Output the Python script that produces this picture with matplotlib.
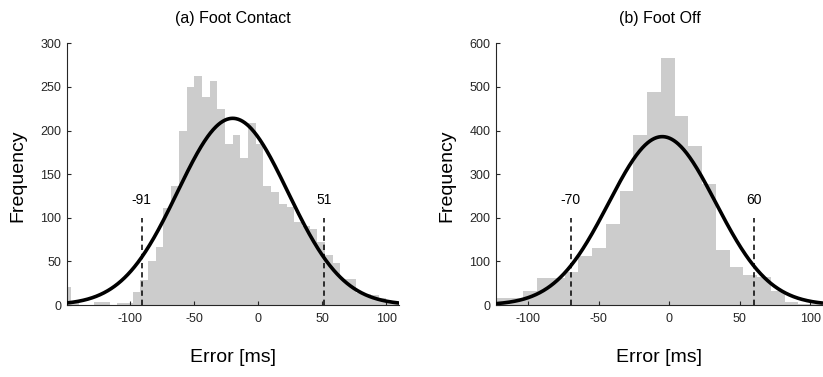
import numpy as np
import matplotlib
matplotlib.use("Agg")
import matplotlib.pyplot as plt

plt.rcParams['font.family'] = ['Liberation Sans', 'DejaVu Sans']
plt.rcParams['axes.unicode_minus'] = False

# ---------------- data ----------------
# (a) Foot Contact histogram
fc_bin_start = -152.0
fc_bin_width = 6.0
fc_counts = [21, 3, 0, 0, 3, 3, 0, 2, 2, 15, 29, 51, 67, 111, 136, 199, 250, 263,
             238, 257, 225, 185, 195, 168, 209, 185, 136, 130, 116, 112, 95, 91,
             87, 72, 57, 48, 30, 30, 14, 13, 12, 8, 5, 3]
fc_mean, fc_sigma, fc_peak = -20.0, 43.0, 214.0
fc_limits = [-91, 51]
fc_xlim = (-149.5, 110)

# (b) Foot Off histogram
fo_bin_start = -122.9
fo_bin_width = 9.75
fo_counts = [15, 15, 33, 63, 63, 76, 112, 131, 185, 261, 390, 489, 566, 434,
             365, 277, 126, 88, 69, 65, 31, 6, 3, 2]
fo_mean, fo_sigma, fo_peak = -5.0, 38.0, 386.0
fo_limits = [-70, 60]
fo_xlim = (-122.9, 109)

titles = ["(a) Foot Contact", "(b) Foot Off"]
x_ticks = [-100, -50, 0, 50, 100]
fc_yticks = [0, 50, 100, 150, 200, 250, 300]
fo_yticks = [0, 100, 200, 300, 400, 500, 600]

# ---------------- figure ----------------
W, H = 823, 377
fig = plt.figure(figsize=(W / 100, H / 100), dpi=100)

dark = '#262626'
bar_c = '#cccccc'


def px_ax(x0, x1, y0, y1):
    return [x0 / W, 1 - y1 / H, (x1 - x0) / W, (y1 - y0) / H]


panels = [
    dict(pos=px_ax(66.7, 399.3, 43.3, 305), start=fc_bin_start, width=fc_bin_width,
         counts=fc_counts, mu=fc_mean, sd=fc_sigma, pk=fc_peak, lim=fc_limits,
         xlim=fc_xlim, yticks=fc_yticks, dash_top=100, ylab_x=18),
    dict(pos=px_ax(496, 823, 43.3, 305), start=fo_bin_start, width=fo_bin_width,
         counts=fo_counts, mu=fo_mean, sd=fo_sigma, pk=fo_peak, lim=fo_limits,
         xlim=fo_xlim, yticks=fo_yticks, dash_top=200, ylab_x=447),
]

for i, p in enumerate(panels):
    ax = fig.add_axes(p['pos'])
    counts = np.array(p['counts'], dtype=float)
    edges = p['start'] + p['width'] * np.arange(len(counts))
    ax.bar(edges, counts, width=p['width'], align='edge', color=bar_c,
           edgecolor='none', linewidth=0, zorder=1)
    xx = np.linspace(p['xlim'][0], p['xlim'][1], 600)
    yy = p['pk'] * np.exp(-0.5 * ((xx - p['mu']) / p['sd']) ** 2)
    ax.plot(xx, yy, color='black', lw=2.6, zorder=3, solid_capstyle='butt')
    for v in p['lim']:
        ax.plot([v, v], [0, p['dash_top']], color='black', lw=1.1,
                ls=(0, (3.5, 2.5)), zorder=4)
        ax.annotate(str(v), (v, p['dash_top']), xytext=(0, 8),
                    textcoords='offset points', ha='center', va='bottom',
                    fontsize=10, color='black')
    ax.set_xlim(*p['xlim'])
    ax.set_ylim(p['yticks'][0], p['yticks'][-1])
    ax.set_xticks(x_ticks)
    ax.set_yticks(p['yticks'])
    for s in ['top', 'right']:
        ax.spines[s].set_visible(False)
    for s in ['left', 'bottom']:
        ax.spines[s].set_color(dark)
        ax.spines[s].set_linewidth(0.8)
    ax.tick_params(direction='in', length=3, width=0.8, colors=dark,
                   labelsize=9, pad=4)
    ax.tick_params(axis='x', pad=6)
    ax.text(0.5, 1 + (43.3 - 18) / 261.7, titles[i], transform=ax.transAxes,
            ha='center', va='center', fontsize=11.5, color='black')
    cx = (p['pos'][0] + p['pos'][2] / 2)
    fig.text(cx, 1 - 357 / H, 'Error [ms]', ha='center', va='center',
             fontsize=14, color='black')
    fig.text(p['ylab_x'] / W, 1 - 176 / H, 'Frequency', rotation=90,
             ha='center', va='center', fontsize=14, color='black')

fig.savefig('out.png', dpi=100)
